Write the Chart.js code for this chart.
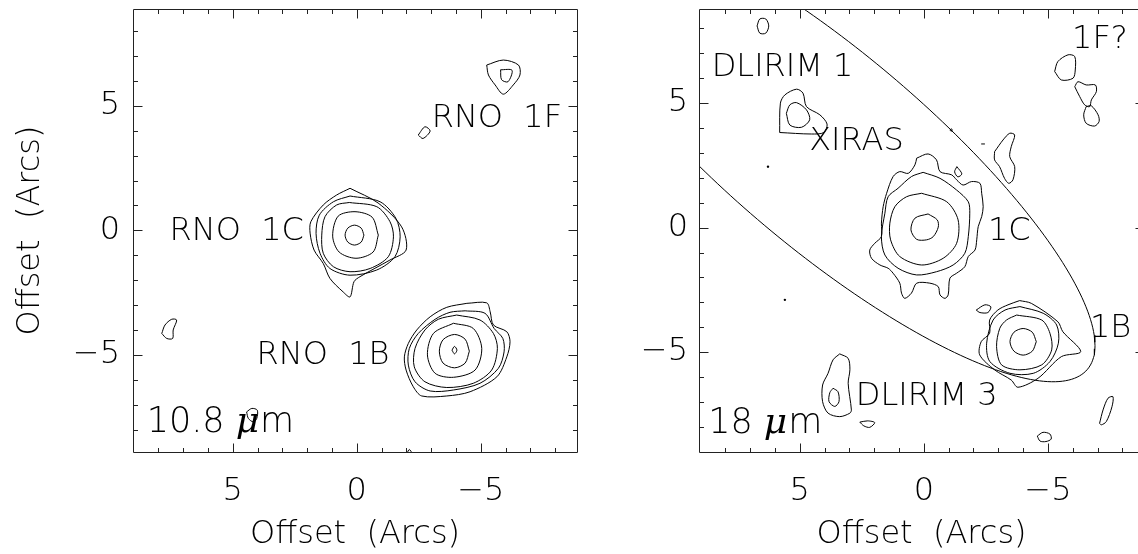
<!DOCTYPE html>
<html>
<head>
<meta charset="utf-8">
<script src="https://cdn.jsdelivr.net/npm/chart.js@4.4.0/dist/chart.umd.min.js"></script>
<style>
    html, body { margin: 0; padding: 0; background: #fff; overflow: hidden; width: 1138px; height: 554px; }
    canvas { position: absolute; top: 0; }
    #map108 { left: 0; }
    #map18 { left: 566px; }
</style>
</head>
<body>
<canvas id="map108" width="600" height="554"></canvas>
<canvas id="map18" width="600" height="554"></canvas>
<script>
// offsets in arcsec, x = RA offset (east to the left), y = Dec offset
const tickValues = [5, 0, -5];
const minorTicks = [-8, -7, -6, -5, -4, -3, -2, -1, 0, 1, 2, 3, 4, 5, 6, 7, 8];

// ---- 10.8 um map: contour polygons [x, y] ----
const rno1C_108 = [
    [[-0.29, -0.19], [-0.18, 0.09], [0.09, 0.21], [0.36, 0.09], [0.47, -0.19], [0.36, -0.47], [0.09, -0.59], [-0.18, -0.47]],
    [[-0.87, -0.19], [-0.62, 0.53], [0.07, 0.75], [0.75, 0.57], [0.97, -0.23], [0.71, -0.87], [0.03, -1.12], [-0.66, -0.87]],
    [[0.30, 1.12], [-0.81, 0.95], [-1.34, 0.35], [-1.48, -0.26], [-1.27, -1.06], [-0.54, -1.53], [0.27, -1.66], [0.94, -1.46], [1.35, -0.92], [1.41, -0.19], [1.28, 0.55], [0.81, 1.02]],
    [[0.27, 1.38], [-0.94, 1.15], [-1.58, 0.48], [-1.75, -0.26], [-1.54, -1.06], [-0.81, -1.59], [0.27, -1.80], [1.08, -1.53], [1.48, -0.92], [1.64, -0.12], [1.51, 0.61], [0.94, 1.15]],
    [[0.27, 1.69], [-0.86, 1.10], [-1.81, 0.14], [-1.99, -0.79], [-1.34, -1.19], [-0.13, -1.86], [0.11, -2.06], [0.27, -2.67], [0.55, -2.47], [1.08, -1.93], [1.35, -1.33], [1.72, -0.79], [1.88, -0.11], [1.85, 0.35], [1.35, 1.02], [0.81, 1.42]]
];
const rno1B_108 = [
    [[-3.84, -4.81], [-3.94, -4.66], [-4.04, -4.81], [-3.94, -4.96]],
    [[-4.54, -4.85], [-4.37, -4.37], [-3.94, -4.18], [-3.48, -4.39], [-3.33, -4.85], [-3.48, -5.33], [-3.94, -5.52], [-4.37, -5.33]],
    [[-3.90, -3.73], [-4.70, -3.94], [-5.04, -4.74], [-4.77, -5.61], [-3.90, -5.90], [-3.16, -5.74], [-2.85, -5.00], [-3.09, -4.14]],
    [[-4.03, -3.40], [-4.97, -3.60], [-5.51, -4.14], [-5.67, -4.74], [-5.44, -5.61], [-4.70, -6.14], [-3.63, -6.31], [-2.75, -6.08], [-2.32, -5.48], [-2.35, -4.74], [-2.75, -4.00], [-3.29, -3.57]],
    [[-4.37, -3.23], [-5.17, -3.33], [-5.54, -3.94], [-5.89, -4.34], [-5.94, -4.88], [-5.71, -5.54], [-4.97, -6.14], [-3.90, -6.41], [-2.96, -6.45], [-2.35, -6.08], [-2.08, -5.41], [-2.12, -4.74], [-2.48, -4.14], [-3.16, -3.57], [-3.76, -3.29]],
    [[-4.44, -2.93], [-5.24, -2.91], [-5.38, -3.27], [-5.51, -3.80], [-6.05, -4.07], [-6.18, -4.47], [-6.05, -5.08], [-5.65, -5.88], [-4.57, -6.48], [-3.63, -6.65], [-2.62, -6.65], [-2.28, -6.28], [-1.99, -5.61], [-1.92, -5.08], [-2.08, -4.54], [-2.42, -4.00], [-2.96, -3.47], [-3.63, -3.09]]
];
const rno1F_108 = [
    [[-5.24, 6.64], [-5.91, 6.84], [-6.52, 6.64], [-6.58, 6.24], [-6.31, 5.84], [-5.91, 5.47], [-5.58, 5.84], [-5.31, 6.24]],
    [[-5.80, 6.45], [-6.26, 6.43], [-6.10, 5.97], [-5.84, 6.05]]
];
const faint_108 = [
    [[-2.48, 3.83], [-2.75, 4.16], [-2.96, 3.99], [-2.67, 3.69]],
    [[7.86, -4.14], [7.73, -3.80], [7.46, -3.57], [7.26, -3.60], [7.40, -4.00], [7.42, -4.34], [7.66, -4.34]],
    [[4.44, -7.29], [4.23, -7.15], [4.01, -7.22], [4.03, -7.55], [4.17, -7.69], [4.37, -7.55]],
    [[-2.02, -8.96], [-2.12, -8.80], [-2.22, -8.96]]
];

// ---- 18 um map ----
const src1C_18 = [
    [[-0.17, 0.55], [-0.54, 0.31], [-0.58, 0.02], [-0.38, -0.36], [-0.11, -0.49], [0.29, -0.47], [0.52, -0.09], [0.36, 0.38]],
    [[0.09, 1.38], [-0.92, 1.04], [-1.38, 0.31], [-1.32, -0.63], [-0.78, -1.23], [0.09, -1.50], [0.97, -1.16], [1.34, -0.49], [1.37, 0.18], [1.17, 0.84], [0.70, 1.24]],
    [[0.03, 2.22], [-0.65, 1.98], [-1.32, 1.51], [-1.79, 1.04], [-1.85, 0.58], [-1.79, -0.36], [-1.65, -1.03], [-1.18, -1.50], [-0.51, -1.77], [0.29, -1.90], [1.04, -1.63], [1.57, -1.10], [1.71, -0.36], [1.57, 0.58], [1.44, 1.24], [1.04, 1.58], [0.50, 2.05]],
    [[0.29, 2.79], [-0.17, 2.96], [-0.51, 2.72], [-0.65, 2.25], [-1.12, 2.12], [-1.32, 1.92], [-1.58, 1.71], [-1.92, 1.85], [-2.26, 1.78], [-2.33, 1.38], [-2.39, 0.84], [-2.33, 0.44], [-2.19, 0.04], [-2.13, -0.49], [-2.06, -0.90], [-1.79, -1.16], [-1.65, -1.57], [-1.32, -1.83], [-1.05, -2.03], [-0.98, -2.70], [-0.85, -2.84], [-0.65, -2.70], [-0.58, -2.37], [-0.24, -2.23], [0.29, -2.23], [0.50, -2.63], [0.77, -2.84], [0.90, -2.63], [0.97, -2.23], [1.24, -1.83], [1.44, -1.63], [1.77, -1.50], [2.11, -1.23], [2.18, -0.90], [1.98, -0.63], [1.71, -0.36], [1.71, 0.18], [1.64, 0.84], [1.50, 1.38], [1.24, 2.05], [0.97, 2.25], [0.63, 2.18], [0.36, 2.52]]
];
const src1B_18 = [
    [[-4.53, -4.58], [-4.37, -4.20], [-4.00, -4.05], [-3.63, -4.20], [-3.47, -4.58], [-3.63, -4.96], [-4.00, -5.12], [-4.37, -4.96]],
    [[-3.74, -3.51], [-4.75, -3.71], [-5.08, -4.24], [-5.15, -4.91], [-4.75, -5.51], [-3.87, -5.71], [-3.13, -5.51], [-2.93, -4.78], [-3.06, -4.04], [-3.33, -3.71]],
    [[-3.87, -3.17], [-4.81, -3.44], [-5.35, -3.91], [-5.42, -4.64], [-5.08, -5.38], [-4.41, -5.85], [-3.47, -5.85], [-2.66, -5.38], [-2.53, -4.64], [-2.79, -3.71], [-3.27, -3.31]],
    [[-3.86, -2.93], [-4.33, -3.04], [-5.40, -3.78], [-5.60, -4.18], [-6.32, -4.98], [-5.54, -5.18], [-4.60, -6.05], [-3.79, -6.41], [-3.52, -6.12], [-2.85, -5.71], [-2.25, -5.11], [-2.31, -4.58], [-2.65, -4.24], [-2.65, -3.71], [-2.98, -3.31], [-3.39, -3.10]],
    [[-2.11, -3.31], [-2.46, -3.10], [-2.70, -3.18], [-2.58, -3.41], [-2.26, -3.41]]
];
const dlirim1_18 = [
    [[5.81, 3.82], [5.78, 5.00], [5.60, 5.33], [5.13, 5.56], [4.87, 5.40], [4.73, 4.86], [4.19, 4.53], [3.90, 4.16], [4.03, 3.82], [4.53, 3.76]],
    [[5.54, 4.59], [5.40, 4.93], [5.13, 5.02], [4.73, 4.73], [4.60, 4.33], [4.93, 4.03], [5.40, 4.12]]
];
const dlirim3_18 = [
    [[3.39, -5.07], [3.05, -5.25], [2.98, -5.71], [3.05, -6.25], [2.92, -7.32], [2.98, -7.45], [3.39, -7.59], [3.86, -7.45], [4.08, -6.99], [4.08, -6.32], [3.86, -5.85], [3.66, -5.31]],
    [[3.66, -6.45], [3.46, -6.59], [3.42, -6.99], [3.59, -7.18], [3.82, -6.99], [3.79, -6.63]]
];
const faint_18 = [
    [[6.72, 8.10], [6.61, 8.38], [6.37, 8.38], [6.25, 8.10], [6.37, 7.81], [6.61, 7.81]],
    [[-5.27, 6.27], [-5.40, 6.67], [-5.81, 6.94], [-6.08, 6.87], [-6.10, 6.33], [-6.01, 6.00], [-5.54, 5.93]],
    [[-6.08, 5.66], [-6.21, 5.86], [-6.54, 5.73], [-6.91, 5.73], [-6.95, 5.46], [-6.75, 5.13], [-6.68, 4.86], [-6.48, 4.93], [-6.28, 5.26]],
    [[-6.54, 4.86], [-6.75, 4.89], [-7.02, 4.53], [-7.06, 4.26], [-6.88, 4.08], [-6.54, 4.19], [-6.44, 4.53]],
    [[-2.85, 3.05], [-3.19, 3.52], [-3.46, 3.79], [-3.66, 3.72], [-3.52, 3.25], [-3.46, 2.85], [-3.66, 2.45], [-3.59, 1.92], [-3.42, 1.78], [-3.25, 1.98], [-3.05, 2.45], [-2.85, 2.72]],
    [[-1.33, 2.45], [-1.53, 2.16], [-1.37, 2.04], [-1.24, 2.24]],
    [[2.58, -7.81], [2.26, -7.76], [1.98, -7.83], [2.18, -8.02], [2.42, -7.96]],
    [[-7.08, -7.86], [-7.22, -7.32], [-7.42, -6.85], [-7.62, -6.79], [-7.58, -7.19], [-7.35, -7.79], [-7.15, -7.92]],
    [[-4.57, -8.37], [-4.80, -8.22], [-5.08, -8.29], [-5.13, -8.49], [-4.92, -8.59], [-4.68, -8.57]],
    [[-1.05, 3.92], [-1.10, 3.97], [-1.15, 3.92], [-1.10, 3.87]]
];
const dots_18 = [[6.28, 2.45], [5.60, -2.90]];
const dash_18 = [[-2.31, 3.36], [-2.46, 3.36]];

// IRAS error ellipse: centre, semi-axes (arcsec), position angle (deg)
const irasCentre = [3.90, 3.12];
const irasAxes = [13.7, 3.94];
const irasAngle = 40;

// annotations
const labels108 = ['RNO  1C', 'RNO  1F', 'RNO  1B'];
const labelX108 = [7.55, -3.02, 4.04];
const labelY108 = [-0.07, 4.47, -5.05];
const labels18 = ['DLIRIM 1', 'XIRAS', '1C', '1F?', '1B', 'DLIRIM 3'];
const labelX18 = [8.55, 4.62, -2.58, -5.97, -6.69, 2.74];
const labelY18 = [6.43, 3.45, -0.17, 7.54, -4.07, -6.80];
const band108 = ['10.8', 8.47, -7.73];
const band18 = ['18', 8.69, -7.88];

const FONT = "'DejaVu Sans', sans-serif";

function fmt(v) {
    return v < 0 ? '\u2212' + (-v) : '' + v;
}

function contourSets(list, closed) {
    return list.map(c => ({
        data: (closed === false ? c : c.concat([c[0]])).map(p => ({ x: p[0], y: p[1] })),
        showLine: true,
        borderColor: '#000',
        borderWidth: 1,
        pointRadius: 0,
        tension: 0.3,
        fill: false
    }));
}

function ellipseSet() {
    const pts = [];
    const phi = irasAngle * Math.PI / 180;
    for (let k = 0; k <= 240; k++) {
        const t = 2 * Math.PI * k / 240;
        const ex = irasAxes[0] * Math.cos(t), ey = irasAxes[1] * Math.sin(t);
        pts.push({
            x: irasCentre[0] + ex * Math.cos(phi) - ey * Math.sin(phi),
            y: irasCentre[1] + ex * Math.sin(phi) + ey * Math.cos(phi)
        });
    }
    return { data: pts, showLine: true, borderColor: '#000', borderWidth: 1, pointRadius: 0, tension: 0, fill: false };
}

const framePlugin = {
    id: 'frame',
    afterDatasetsDraw(chart, args, opts) {
        const ctx = chart.ctx, a = chart.chartArea;
        const xs = chart.scales.x, ys = chart.scales.y;
        const L = Math.round(a.left) + 0.5, R = Math.round(a.right) + 0.5;
        const T = Math.round(a.top) + 0.5, B = Math.round(a.bottom) + 0.5;
        ctx.save();
        ctx.strokeStyle = '#222';
        ctx.lineWidth = 1;
        ctx.beginPath();
        ctx.rect(L, T, R - L, B - T);
        minorTicks.forEach(v => {
            const len = v % 5 === 0 ? 9 : 4.5;
            const px = Math.round(xs.getPixelForValue(v)) + 0.5;
            const py = Math.round(ys.getPixelForValue(v)) + 0.5;
            ctx.moveTo(px, B); ctx.lineTo(px, B - len);
            ctx.moveTo(px, T); ctx.lineTo(px, T + len);
            ctx.moveTo(L, py); ctx.lineTo(L + len, py);
            ctx.moveTo(R, py); ctx.lineTo(R - len, py);
        });
        ctx.stroke();

        ctx.fillStyle = '#000';
        ctx.textBaseline = 'middle';
        ctx.textAlign = 'left';
        ctx.font = '200 32px ' + FONT;
        opts.text.forEach((t, i) => {
            ctx.fillText(t, xs.getPixelForValue(opts.x[i]), ys.getPixelForValue(opts.y[i]));
        });

        // wavelength tag with italic mu
        let bx = xs.getPixelForValue(opts.band[1]);
        const by = ys.getPixelForValue(opts.band[2]);
        ctx.font = '200 35px ' + FONT;
        ctx.fillText(opts.band[0] + ' ', bx, by);
        bx += ctx.measureText(opts.band[0] + ' ').width;
        ctx.font = "italic 36px 'DejaVu Serif', serif";
        ctx.fillText('\u03bc', bx, by);
        bx += ctx.measureText('\u03bc').width + 1;
        ctx.font = '200 35px ' + FONT;
        ctx.fillText('m', bx, by);
        ctx.restore();
    }
};

function makeMap(id, datasets, o) {
    const f = { family: FONT, size: 32, weight: '200' };
    return new Chart(document.getElementById(id), {
        type: 'scatter',
        data: { datasets: datasets },
        options: {
            responsive: false,
            animation: false,
            events: [],
            layout: { autoPadding: false, padding: { left: 0, top: 9, right: o.padRight, bottom: 0 } },
            plugins: {
                legend: { display: false },
                tooltip: { enabled: false },
                frame: { text: o.text, x: o.tx, y: o.ty, band: o.band }
            },
            scales: {
                x: {
                    type: 'linear',
                    reverse: true,
                    min: o.xMin,
                    max: o.xMax,
                    afterBuildTicks: s => { s.ticks = tickValues.map(v => ({ value: v })); },
                    afterFit: s => { s.height = 102; s.paddingLeft = 0; s.paddingRight = 0; },
                    grid: { display: false, drawTicks: false },
                    border: { display: false },
                    ticks: { color: '#000', font: f, padding: 20, maxRotation: 0, autoSkip: false, callback: fmt },
                    title: { display: true, text: 'Offset  (Arcs)', color: '#000', font: f, padding: 0 }
                },
                y: {
                    type: 'linear',
                    min: o.yMin,
                    max: o.yMax,
                    afterBuildTicks: s => { s.ticks = tickValues.map(v => ({ value: v })); },
                    afterFit: s => { s.width = 133; s.paddingTop = 0; s.paddingBottom = 0; },
                    grid: { display: false, drawTicks: false },
                    border: { display: false },
                    ticks: { color: '#000', font: f, padding: o.yPad, autoSkip: false, callback: fmt },
                    title: { display: o.yTitle, text: 'Offset  (Arcs)', color: '#000', font: f, padding: { top: 11, bottom: 0 } }
                }
            }
        },
        plugins: [framePlugin]
    });
}

makeMap('map108',
    contourSets(rno1C_108).concat(contourSets(rno1B_108), contourSets(rno1F_108), contourSets(faint_108)),
    { xMin: -8.88, xMax: 9.02, yMin: -8.9, yMax: 8.89, padRight: 23, yPad: 13, yTitle: true,
      text: labels108, tx: labelX108, ty: labelY108, band: band108 });

const sets18 = contourSets(src1C_18).concat(
    contourSets(src1B_18), contourSets(dlirim1_18), contourSets(dlirim3_18), contourSets(faint_18),
    contourSets([dash_18], false),
    [ellipseSet(),
     { data: dots_18.map(p => ({ x: p[0], y: p[1] })), showLine: false, pointRadius: 1.2, pointBackgroundColor: '#000', pointBorderWidth: 0 }]
);

makeMap('map18', sets18,
    { xMin: -8.87, xMax: 9.06, yMin: -9.01, yMax: 8.78, padRight: 22, yPad: 11, yTitle: false,
      text: labels18, tx: labelX18, ty: labelY18, band: band18 });
</script>
</body>
</html>
